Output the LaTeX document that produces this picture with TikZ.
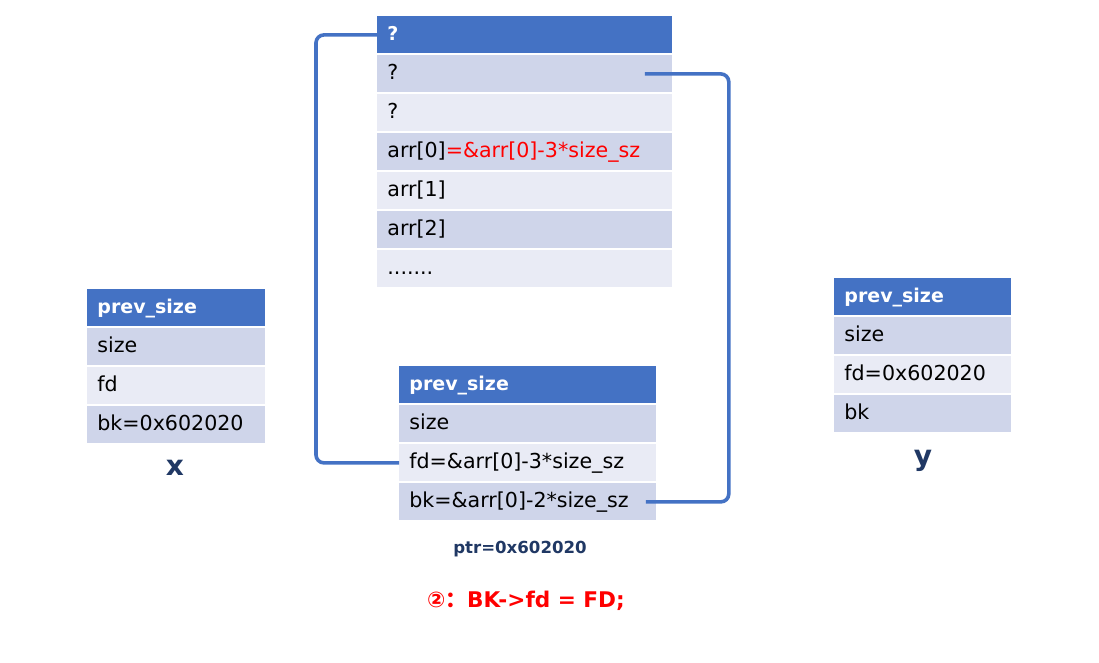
\documentclass[tikz,border=0pt]{standalone}
\usepackage{fontspec}
\setmainfont{DejaVu Sans}
\newfontfamily\cjk{Noto Sans CJK SC}
\usepackage{tikz}

\definecolor{hdblue}{HTML}{4472C4}
\definecolor{rowdark}{HTML}{CFD5EA}
\definecolor{rowlight}{HTML}{E9EBF5}
\definecolor{navy}{HTML}{203864}
\newcommand{\mdots}{.......}

\tikzset{
	cell/.style={rectangle, anchor=north west, inner xsep=5pt, inner ysep=0pt, minimum height=18.5pt, text height=8pt, text depth=2.5pt, align=left, font=\fontsize{10.3}{12}\selectfont},
	head/.style={cell, fill=hdblue, text=white, font=\fontsize{9.5}{12}\selectfont\bfseries},
	link/.style={draw=hdblue, line width=1.8pt, rounded corners=4pt},
}

\begin{document}
\begin{tikzpicture}[x=0.5pt,y=-0.5pt]
	\useasboundingbox (0,0) rectangle (1099,663);

	%TOP TABLE
	\node[head, text width=137.5pt] (heap0) at (377,16) {?};
	\foreach \t/\c [count=\i] in {?/rowdark, ?/rowlight, {arr[0]\textcolor{red}{=\&arr[0]-3*size\_sz}}/rowdark, arr[1]/rowlight, arr[2]/rowdark, \mdots/rowlight}{
		\node[cell, fill=\c, text width=137.5pt] (heap\i) at (377,16+\i*39) {\t}; %rows
	}

	%CHUNK X
	\node[head, text width=79pt] (x0) at (87,289) {prev\_size};
	\foreach \t/\c [count=\i] in {size/rowdark, fd/rowlight, bk=0x602020/rowdark}{
		\node[cell, fill=\c, text width=79pt] (x\i) at (87,289+\i*39) {\t};
	}
	\node[font=\fontsize{14}{17}\selectfont\bfseries, text=navy] (xlab) at (175,468) {x};

	%CHUNK P
	\node[head, text width=118.5pt] (p0) at (399,366) {prev\_size};
	\foreach \t/\c [count=\i] in {size/rowdark, fd=\&arr[0]-3*size\_sz/rowlight, bk=\&arr[0]-2*size\_sz/rowdark}{
		\node[cell, fill=\c, text width=118.5pt] (p\i) at (399,366+\i*39) {\t};
	}
	\node[font=\fontsize{8.3}{10}\selectfont\bfseries, text=navy] (ptr) at (520,549) {ptr=0x602020};

	%CHUNK Y
	\node[head, text width=78.5pt] (y0) at (834,278) {prev\_size};
	\foreach \t/\c [count=\i] in {size/rowdark, fd=0x602020/rowlight, bk/rowdark}{
		\node[cell, fill=\c, text width=78.5pt] (y\i) at (834,278+\i*39) {\t};
	}
	\node[font=\fontsize{14}{17}\selectfont\bfseries, text=navy] (ylab) at (923,461) {y};

	%LINKS
	\coordinate (qend) at ([xshift=-14pt]heap1.east);
	\coordinate (bkend) at ([xshift=-5.5pt]p3.east);
	\draw[link] (p2.west) -- ++(-83,0) |- (heap0.west);
	\draw[link] (qend) -- ++(84,0) |- (bkend);

	%STEP
	\node[font=\fontsize{10.8}{13}\selectfont\bfseries, text=red] (step) at (526,601) {②{\cjk ：}BK->fd = FD;};
\end{tikzpicture}
\end{document}
